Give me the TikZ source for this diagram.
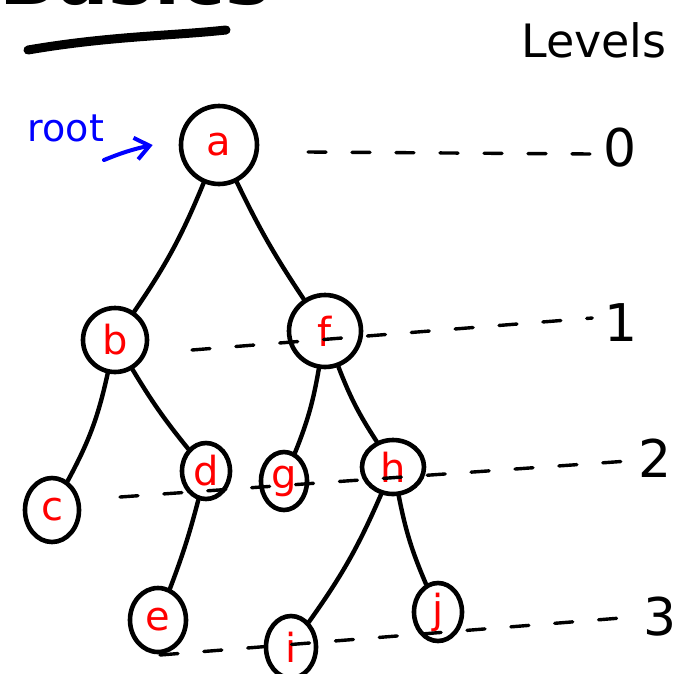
\documentclass[tikz,border=0pt]{standalone}
\usepackage{fontspec}
\setmainfont{DejaVu Sans}
\usetikzlibrary{shapes.geometric,arrows.meta}
\begin{document}
\begin{tikzpicture}[x=1pt,y=-1pt,
  tnode/.style={ellipse,draw=black,line width=4.6pt,inner sep=0pt,text=red,font=\fontsize{40}{40}\selectfont},
  edge/.style={line width=4.4pt,line cap=round},
  lvl/.style={line width=3.4pt,dash pattern=on 18pt off 26pt,line cap=round},
  lvlnum/.style={font=\fontsize{52}{52}\selectfont,inner sep=0pt}]
\useasboundingbox (0,0) rectangle (682,673);
\clip (0,0) rectangle (682,673);
% title (cut off)
\node[anchor=base,font=\bfseries\fontsize{76}{76}\selectfont,inner sep=0pt] (title) at (135,4) {Basics};
\draw[line width=9pt,line cap=round] (28,50) .. controls (110,36) and (170,36) .. (226,30);
\node[font=\fontsize{46}{46}\selectfont,inner sep=0pt] (levels) at (594,40) {Levels};
% nodes
\node[tnode,minimum width=76pt,minimum height=78pt] (a) at (219,145) {a};
\node[tnode,minimum width=64pt,minimum height=64pt] (b) at (115,340) {b};
\node[tnode,minimum width=72pt,minimum height=72pt] (f) at (325,331) {f};
\node[tnode,minimum width=54pt,minimum height=64pt] (c) at (52,510) {c};
\node[tnode,minimum width=48pt,minimum height=56pt] (d) at (206,471) {d};
\node[tnode,minimum width=46pt,minimum height=58pt] (g) at (284,481) {g};
\node[tnode,minimum width=62pt,minimum height=54pt] (h) at (393,467) {h};
\node[tnode,minimum width=56pt,minimum height=64pt] (e) at (158,620) {e};
\node[tnode,minimum width=50pt,minimum height=62pt] (i) at (291,647) {i};
\node[tnode,minimum width=48pt,minimum height=58pt] (j) at (438,612) {j};
% edges
\draw[edge] (a) to[bend left=6] (b);
\draw[edge] (a) to[bend right=4] (f);
\draw[edge] (b) to[bend left=8] (c);
\draw[edge] (b) to[bend right=4] (d);
\draw[edge] (f) to[bend left=6] (g);
\draw[edge] (f) to[bend right=6] (h);
\draw[edge] (d) to[bend left=3] (e);
\draw[edge] (h) to[bend left=6] (i);
\draw[edge] (h) to[bend right=6] (j);
% levels
\node[lvlnum] (L0) at (620,148) {0};
\node[lvlnum] (L1) at (621,323) {1};
\node[lvlnum] (L2) at (655,458) {2};
\node[lvlnum] (L3) at (660,617) {3};
\coordinate (s0) at (308,152);
\coordinate (s1) at (192,350);
\coordinate (s2) at (120,497);
\coordinate (s3) at (160,655);
\draw[lvl] (s0) -- ([xshift=-12pt,yshift=-6pt]L0.west);
\draw[lvl] (s1) -- ([xshift=-12pt,yshift=5pt]L1.west);
\draw[lvl] (s2) -- ([xshift=-10pt,yshift=-3pt]L2.west);
\draw[lvl] (s3) -- ([xshift=-10pt,yshift=0pt]L3.west);
% root
\node[text=blue,font=\fontsize{38}{38}\selectfont,inner sep=0pt] (root) at (66,128) {root};
\coordinate (rs) at (104,160);
\draw[blue,line width=4pt,line cap=round,-{Straight Barb[length=14pt,width=22pt]}] (rs) to[bend left=5] ([xshift=-26pt]a.west);
\end{tikzpicture}
\end{document}
